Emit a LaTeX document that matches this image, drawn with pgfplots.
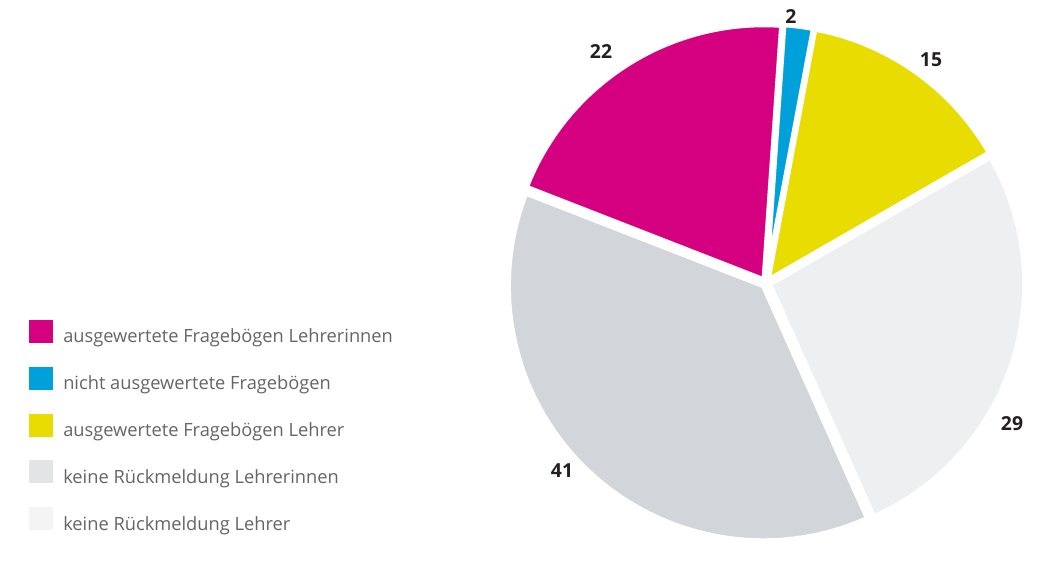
\documentclass[border=0pt]{standalone}
\usepackage{pgfplots}
\pgfplotsset{compat=1.18}
\usepackage{pgfplotstable}
\usepackage{fontspec}
\setmainfont{Open Sans}

\definecolor{cMag}{HTML}{D5007F}
\definecolor{cBlue}{HTML}{00A0DA}
\definecolor{cYel}{HTML}{E8DC00}
\definecolor{cGray}{HTML}{D2D5DA}
\definecolor{cLight}{HTML}{EEEFF1}
\definecolor{lGray}{HTML}{E3E4E6}
\definecolor{lLight}{HTML}{F4F4F5}
\definecolor{txtgray}{HTML}{656565}
\definecolor{numblack}{HTML}{231F20}

% legend order; lx/ly = position of the number label (pixels from top left)
\pgfplotstableread[col sep=comma]{
value,colour,lcolour,lx,ly,label
22,cMag,cMag,601,52,ausgewertete Fragebögen Lehrerinnen
2,cBlue,cBlue,791,17,nicht ausgewertete Fragebögen
15,cYel,cYel,931,60,ausgewertete Fragebögen Lehrer
41,cGray,lGray,562,471,keine Rückmeldung Lehrerinnen
29,cLight,lLight,1012,424,keine Rückmeldung Lehrer
}\piedata

\begin{document}
\begin{tikzpicture}[
  numlabel/.style={font=\fontsize{14.5}{16}\selectfont\bfseries, text=numblack, inner sep=0pt},
  legtext/.style={font=\fontsize{13.7}{16}\selectfont, text=txtgray, anchor=base west, inner sep=0pt}]
\begin{axis}[
  scale only axis, width=786.75pt, height=403.5pt,
  xmin=0, xmax=1049, ymin=0, ymax=538,
  hide axis, clip=false]
\path (axis cs:0,0) (axis cs:1049,538);

% total of all slices
\xdef\total{0}
\pgfplotstableforeachcolumnelement{value}\of\piedata\as\v{%
  \pgfmathsetmacro\tmp{\total+\v}\xdef\total{\tmp}}

% slices clockwise from the magenta one
\xdef\ang{158.7}
\foreach \i in {0,1,2,4,3}{
  \pgfplotstablegetelem{\i}{value}\of\piedata \let\v\pgfplotsretval
  \pgfplotstablegetelem{\i}{colour}\of\piedata \let\c\pgfplotsretval
  \pgfplotstablegetelem{\i}{lx}\of\piedata \let\lx\pgfplotsretval
  \pgfplotstablegetelem{\i}{ly}\of\piedata \let\ly\pgfplotsretval
  \pgfmathsetmacro\a{\ang}
  \pgfmathsetmacro\b{\ang-360*\v/\total}
  \pgfmathsetmacro\m{(\a+\b)/2}
  \pgfmathsetmacro\ox{766+4*cos(\m)}
  \pgfmathsetmacro\oy{255+4*sin(\m)}
  \pgfmathsetmacro\ny{538-\ly}
  \edef\temp{\noexpand\fill[\c, draw=white, line width=3.5pt, line join=round,
      shift={(axis cs:\ox,\oy)}]
      (0,0) -- (\a:191pt) arc[start angle=\a, end angle=\b, radius=191pt] -- cycle;
    \noexpand\node[numlabel] at (axis cs:\lx,\ny) {\v};}
  \temp
  \xdef\ang{\b}
}

% legend
\foreach \i in {0,...,4}{
  \pgfplotstablegetelem{\i}{lcolour}\of\piedata \let\c\pgfplotsretval
  \pgfplotstablegetelem{\i}{label}\of\piedata \let\t\pgfplotsretval
  \pgfmathsetmacro\yt{538-320-46.8*\i}
  \pgfmathsetmacro\yb{\yt-23}
  \edef\temp{\noexpand\fill[\c] (axis cs:29,\yt) rectangle (axis cs:53,\yb);
    \noexpand\node[legtext] at (axis cs:63,\yb) {\t};}
  \temp
}
\end{axis}
\end{tikzpicture}
\end{document}
